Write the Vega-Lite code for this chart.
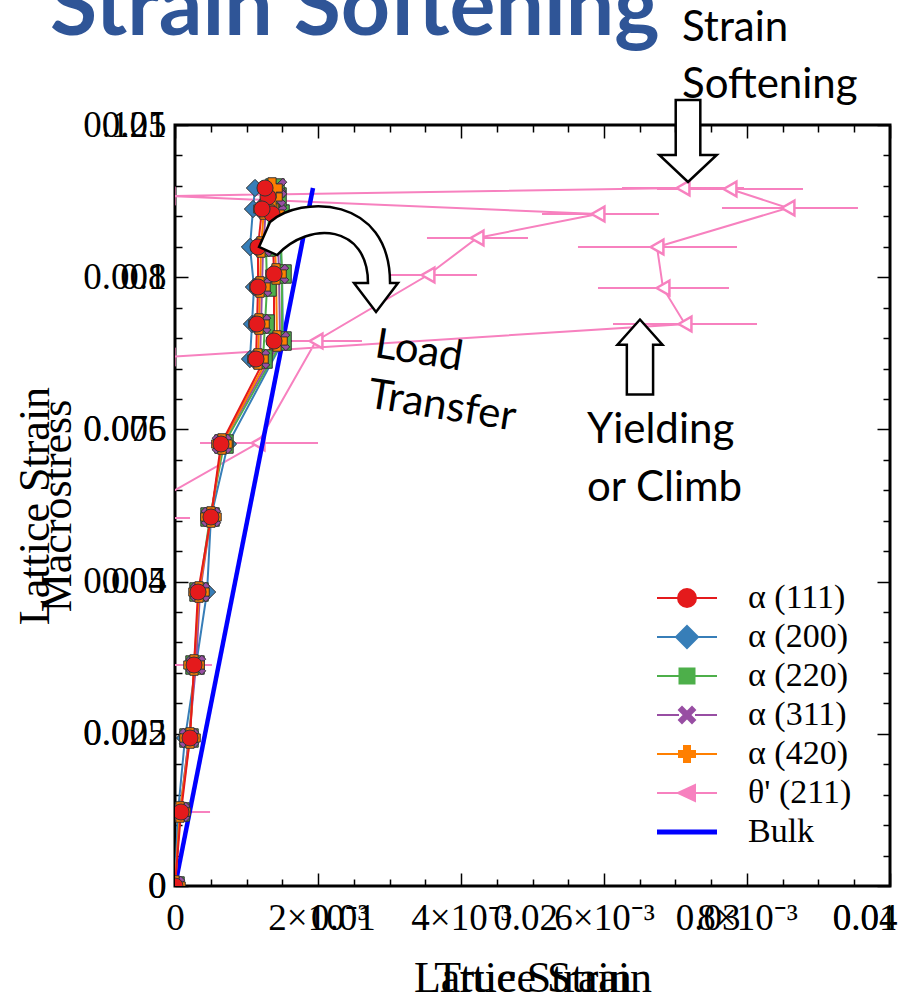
{
  "$schema": "https://vega.github.io/schema/vega-lite/v6.json",
  "width": 715,
  "height": 761,
  "autosize": {"type": "none"},
  "padding": {"left": 175, "top": 125, "right": 14, "bottom": 117},
  "background": "white",
  "config": {
    "view": {"stroke": "black", "strokeWidth": 3},
    "axis": {"grid": false, "domain": false, "labelFont": "Liberation Serif", "labelFontSize": 37, "labelColor": "black", "titleFont": "Liberation Serif", "titleFontSize": 44, "titleFontWeight": "normal", "titleColor": "black", "tickColor": "black", "tickWidth": 1.5, "labelOverlap": false, "labelBound": false, "labelFlush": false}
  },
  "datasets": {
    "alpha": [
      {"s":"α (200)","i":0,"e":0,"m":0},{"s":"α (200)","i":1,"e":0.000042,"m":0.01216},{"s":"α (200)","i":2,"e":0.00014,"m":0.02431},{"s":"α (200)","i":3,"e":0.000294,"m":0.0363},{"s":"α (200)","i":4,"e":0.000448,"m":0.04829},{"s":"α (200)","i":5,"e":0.000503,"m":0.06061},{"s":"α (200)","i":6,"e":0.000741,"m":0.0726},{"s":"α (200)","i":7,"e":0.00151,"m":0.08952},{"s":"α (200)","i":8,"e":0.001497,"m":0.10053},{"s":"α (200)","i":9,"e":0.001441,"m":0.11038},{"s":"α (200)","i":10,"e":0.001413,"m":0.11318},{"s":"α (200)","i":11,"e":0.001119,"m":0.11465},{"s":"α (200)","i":12,"e":0.001091,"m":0.1112},{"s":"α (200)","i":13,"e":0.001049,"m":0.10496},{"s":"α (200)","i":14,"e":0.001105,"m":0.09839},{"s":"α (200)","i":15,"e":0.001077,"m":0.09231},{"s":"α (200)","i":16,"e":0.001049,"m":0.08656},
      {"s":"α (220)","i":0,"e":0,"m":0},{"s":"α (220)","i":1,"e":0.00007,"m":0.01216},{"s":"α (220)","i":2,"e":0.000196,"m":0.02431},{"s":"α (220)","i":3,"e":0.00028,"m":0.0363},{"s":"α (220)","i":4,"e":0.000336,"m":0.04829},{"s":"α (220)","i":5,"e":0.00049,"m":0.06061},{"s":"α (220)","i":6,"e":0.000685,"m":0.0726},{"s":"α (220)","i":7,"e":0.001497,"m":0.08952},{"s":"α (220)","i":8,"e":0.001497,"m":0.10053},{"s":"α (220)","i":9,"e":0.001469,"m":0.11038},{"s":"α (220)","i":10,"e":0.001427,"m":0.11318},{"s":"α (220)","i":11,"e":0.001399,"m":0.11465},{"s":"α (220)","i":12,"e":0.001329,"m":0.1112},{"s":"α (220)","i":13,"e":0.001273,"m":0.10496},{"s":"α (220)","i":14,"e":0.001287,"m":0.09839},{"s":"α (220)","i":15,"e":0.001259,"m":0.09231},{"s":"α (220)","i":16,"e":0.001231,"m":0.08656},
      {"s":"α (311)","i":0,"e":0,"m":0},{"s":"α (311)","i":1,"e":0.00007,"m":0.01216},{"s":"α (311)","i":2,"e":0.000196,"m":0.02431},{"s":"α (311)","i":3,"e":0.000294,"m":0.0363},{"s":"α (311)","i":4,"e":0.00035,"m":0.04829},{"s":"α (311)","i":5,"e":0.000503,"m":0.06061},{"s":"α (311)","i":6,"e":0.000657,"m":0.0726},{"s":"α (311)","i":7,"e":0.001469,"m":0.08952},{"s":"α (311)","i":8,"e":0.001455,"m":0.10053},{"s":"α (311)","i":9,"e":0.001427,"m":0.11038},{"s":"α (311)","i":10,"e":0.001413,"m":0.11318},{"s":"α (311)","i":11,"e":0.001427,"m":0.11465},{"s":"α (311)","i":12,"e":0.001273,"m":0.1112},{"s":"α (311)","i":13,"e":0.001231,"m":0.10496},{"s":"α (311)","i":14,"e":0.001217,"m":0.09839},{"s":"α (311)","i":15,"e":0.001203,"m":0.09231},{"s":"α (311)","i":16,"e":0.001189,"m":0.08656},
      {"s":"α (420)","i":0,"e":0,"m":0},{"s":"α (420)","i":1,"e":0.00007,"m":0.01216},{"s":"α (420)","i":2,"e":0.00021,"m":0.02431},{"s":"α (420)","i":3,"e":0.000266,"m":0.0363},{"s":"α (420)","i":4,"e":0.000336,"m":0.04829},{"s":"α (420)","i":5,"e":0.000503,"m":0.06061},{"s":"α (420)","i":6,"e":0.000657,"m":0.0726},{"s":"α (420)","i":7,"e":0.001427,"m":0.08952},{"s":"α (420)","i":8,"e":0.001413,"m":0.10053},{"s":"α (420)","i":9,"e":0.001385,"m":0.11038},{"s":"α (420)","i":10,"e":0.001357,"m":0.11318},{"s":"α (420)","i":11,"e":0.001357,"m":0.11465},{"s":"α (420)","i":12,"e":0.001245,"m":0.1112},{"s":"α (420)","i":13,"e":0.001203,"m":0.10496},{"s":"α (420)","i":14,"e":0.001189,"m":0.09839},{"s":"α (420)","i":15,"e":0.001175,"m":0.09231},{"s":"α (420)","i":16,"e":0.001161,"m":0.08656},
      {"s":"α (111)","i":0,"e":0,"m":0},{"s":"α (111)","i":1,"e":0.000084,"m":0.01216},{"s":"α (111)","i":2,"e":0.00021,"m":0.02431},{"s":"α (111)","i":3,"e":0.000266,"m":0.0363},{"s":"α (111)","i":4,"e":0.000322,"m":0.04829},{"s":"α (111)","i":5,"e":0.000503,"m":0.06061},{"s":"α (111)","i":6,"e":0.000643,"m":0.0726},{"s":"α (111)","i":7,"e":0.001385,"m":0.08952},{"s":"α (111)","i":8,"e":0.001385,"m":0.10053},{"s":"α (111)","i":9,"e":0.001357,"m":0.11038},{"s":"α (111)","i":10,"e":0.001301,"m":0.11318},{"s":"α (111)","i":11,"e":0.001259,"m":0.11465},{"s":"α (111)","i":12,"e":0.001217,"m":0.1112},{"s":"α (111)","i":13,"e":0.001161,"m":0.10496},{"s":"α (111)","i":14,"e":0.001161,"m":0.09839},{"s":"α (111)","i":15,"e":0.001147,"m":0.09231},{"s":"α (111)","i":16,"e":0.001133,"m":0.08656}
    ],
    "theta": [
      {"s":"θ' (211)","i":0,"e":-0.00035,"m":0.01216,"lo":-0.00119,"hi":0.00049},
      {"s":"θ' (211)","i":1,"e":-0.00035,"m":0.0363,"lo":-0.00119,"hi":0.000517},
      {"s":"θ' (211)","i":2,"e":-0.000685,"m":0.06045,"lo":-0.00158,"hi":0.00021},
      {"s":"θ' (211)","i":3,"e":0.001161,"m":0.07277,"lo":0.00035,"hi":0.002},
      {"s":"θ' (211)","i":4,"e":0.001972,"m":0.08952,"lo":0.001329,"hi":0.002615},
      {"s":"θ' (211)","i":5,"e":0.003538,"m":0.10036,"lo":0.002909,"hi":0.004224},
      {"s":"θ' (211)","i":6,"e":0.004224,"m":0.10644,"lo":0.003524,"hi":0.004937},
      {"s":"θ' (211)","i":7,"e":0.005916,"m":0.11038,"lo":0.005133,"hi":0.006769},
      {"s":"θ' (211)","i":8,"e":-0.000098,"m":0.11334},
      {"s":"θ' (211)","i":9,"e":0.007105,"m":0.11465,"lo":0.006252,"hi":0.007958},
      {"s":"θ' (211)","i":10,"e":0.007762,"m":0.11449,"lo":0.006741,"hi":0.008783},
      {"s":"θ' (211)","i":11,"e":0.008573,"m":0.11137,"lo":0.00765,"hi":0.009552},
      {"s":"θ' (211)","i":12,"e":0.006741,"m":0.10496,"lo":0.005636,"hi":0.00786},
      {"s":"θ' (211)","i":13,"e":0.006825,"m":0.09823,"lo":0.005916,"hi":0.007748},
      {"s":"θ' (211)","i":14,"e":0.007133,"m":0.09231,"lo":0.006126,"hi":0.00814},
      {"s":"θ' (211)","i":15,"e":-0.000098,"m":0.08689}
    ],
    "bulk": [{"s":"Bulk","i":0,"e":0,"m":0},{"s":"Bulk","i":1,"e":0.00193,"m":0.11465}],
    "notes": [{"t":"Strain","e":0.007091,"m":0.14094},{"t":"Softening","e":0.007091,"m":0.13157},{"t":"Yielding","e":0.005762,"m":0.0749},{"t":"or Climb","e":0.005762,"m":0.06538}],
    "tilted": [{"t":"Load","e":0.003413,"m":0.08788},{"t":"Transfer","e":0.003734,"m":0.07884}],
    "heading": [{"t":"Strain Softening","e":-0.001748,"m":0.13979}],
    "arrows": [{"a":"down","e":0.007175,"m":0.12237},{"a":"up","e":0.006503,"m":0.08689},{"a":"curve","e":0.002056,"m":0.10266}]
  },
  "layer": [
    {
      "layer": [
        {
          "data": {"name": "theta"},
          "transform": [{"filter": "isValid(datum.lo)"}],
          "mark": {"type": "rule", "clip": true, "strokeWidth": 2},
          "encoding": {
            "x": {"field": "lo", "type": "quantitative", "title": "Lattice Strain", "scale": {"domain": [0, 0.01], "nice": false, "zero": false},
              "axis": {"orient": "bottom", "values": [0, 0.002, 0.004, 0.006, 0.008, 0.01],
                "labelExpr": "datum.value < 1e-9 ? '0' : datum.value > 0.0099 ? '0.01' : round(datum.value*1000) + '×10⁻³'",
                "ticks": false,
                "labelPadding": 14, "labelBaseline": "top", "labelOverlap": false, "labelBound": false, "labelFlush": false,
                "labelAlign": {"condition": {"test": "datum.value > 0.0099", "value": "right"}, "value": "center"},
                "labelOffset": {"condition": {"test": "datum.value > 0.0099", "value": 7}, "value": 0},
                "titleX": 357.5, "titleY": 92, "titleAlign": "center", "titleBaseline": "middle"}},
            "x2": {"field": "hi"},
            "y": {"field": "m", "type": "quantitative", "title": "Macrostress", "scale": {"domain": [0, 0.125], "nice": false},
              "axis": {"orient": "left", "values": [0, 0.025, 0.05, 0.075, 0.1, 0.125],
                "format": "~g", "ticks": false,
                "labelPadding": 9, "labelBaseline": "middle", "labelOverlap": false, "labelBound": false, "labelFlush": false,
                "titleAngle": -90, "titleX": -118, "titleY": 380.5, "titleAlign": "center", "titleBaseline": "middle"}},
            "color": {"field": "s", "type": "nominal",
              "scale": {"domain": ["α (111)","α (200)","α (220)","α (311)","α (420)","θ' (211)","Bulk"], "range": ["#e41a1c","#377eb8","#4daf4a","#984ea3","#ff7f00","#f781bf","#0000ff"]},
              "legend": {"title": null, "orient": "none", "legendX": 495, "legendY": 456, "symbolSize": 400, "labelFont": "Liberation Serif", "labelFontSize": 34, "labelColor": "black", "labelOffset": 44, "rowPadding": 5, "labelLimit": 300,
                "encode": {"symbols": {"update": {
                  "shape": {"signal": "['M-3,0H-0.9M0.9,0H3M-0.9,0A0.9,0.9 0 1,0 0.9,0A0.9,0.9 0 1,0 -0.9,0Z','M-3,0H-1.1M1.1,0H3M0,-1.1L1.1,0L0,1.1L-1.1,0Z','M-3,0H-0.75M0.75,0H3M-0.75,-0.75H0.75V0.75H-0.75Z','M-3,0H-0.8M0.8,0H3M-0.8,-0.5L-0.5,-0.8L0,-0.3L0.5,-0.8L0.8,-0.5L0.3,0L0.8,0.5L0.5,0.8L0,0.3L-0.5,0.8L-0.8,0.5L-0.3,0Z','M-3,0H-0.8M0.8,0H3M-0.3,-0.8H0.3V-0.3H0.8V0.3H0.3V0.8H-0.3V0.3H-0.8V-0.3H-0.3Z','M-3,0H-0.9M0.8,0H3M-0.9,0L0.8,-0.8V0.8Z','M-3,0H3'][datum.index]"},
                  "fill": {"signal": "['#e41a1c','#377eb8','#4daf4a','#984ea3','#ff7f00','#ffffff','#0000ff'][datum.index]"},
                  "stroke": {"signal": "['#e41a1c','#377eb8','#4daf4a','#984ea3','#ff7f00','#f781bf','#0000ff'][datum.index]"},
                  "strokeWidth": {"signal": "datum.index == 6 ? 5 : 2"},
                  "size": {"value": 400},
                  "opacity": {"value": 1},
                  "fillOpacity": {"value": 1}
                }}}}}
          }
        },
        {
          "data": {"name": "theta"},
          "mark": {"type": "line", "clip": true, "strokeWidth": 2},
          "encoding": {
            "x": {"field": "e", "type": "quantitative", "title": "Lattice Strain"},
            "y": {"field": "m", "type": "quantitative", "title": "Macrostress"},
            "color": {"field": "s", "type": "nominal"},
            "order": {"field": "i", "type": "quantitative"}
          }
        },
        {
          "data": {"name": "theta"},
          "mark": {"type": "point", "clip": true, "shape": "triangle-left", "filled": false, "fill": "white", "fillOpacity": 1, "opacity": 1, "size": 220, "strokeWidth": 2.5},
          "encoding": {
            "x": {"field": "e", "type": "quantitative", "title": "Lattice Strain"},
            "y": {"field": "m", "type": "quantitative", "title": "Macrostress"},
            "color": {"field": "s", "type": "nominal"}
          }
        },
        {
          "data": {"name": "bulk"},
          "mark": {"type": "line", "clip": true, "strokeWidth": 4.5},
          "encoding": {
            "x": {"field": "e", "type": "quantitative", "title": "Lattice Strain"},
            "y": {"field": "m", "type": "quantitative", "title": "Macrostress"},
            "color": {"field": "s", "type": "nominal"},
            "order": {"field": "i", "type": "quantitative"}
          }
        },
        {
          "data": {"name": "alpha"},
          "mark": {"type": "line", "clip": true, "strokeWidth": 2},
          "encoding": {
            "x": {"field": "e", "type": "quantitative", "title": "Lattice Strain"},
            "y": {"field": "m", "type": "quantitative", "title": "Macrostress"},
            "color": {"field": "s", "type": "nominal"},
            "order": {"field": "i", "type": "quantitative"}
          }
        },
        {
          "data": {"name": "alpha"},
          "mark": {"type": "point", "clip": true, "filled": true, "opacity": 1, "stroke": "#333333", "strokeWidth": 1},
          "encoding": {
            "x": {"field": "e", "type": "quantitative", "title": "Lattice Strain"},
            "y": {"field": "m", "type": "quantitative", "title": "Macrostress"},
            "color": {"field": "s", "type": "nominal"},
            "shape": {"field": "s", "type": "nominal", "legend": null,
              "scale": {"domain": ["α (111)","α (200)","α (220)","α (311)","α (420)"], "range": ["circle","diamond","square","M-1,-0.6L-0.6,-1L0,-0.4L0.6,-1L1,-0.6L0.4,0L1,0.6L0.6,1L0,0.4L-0.6,1L-1,0.6L-0.4,0Z","cross"]}},
            "size": {"field": "s", "type": "nominal", "legend": null,
              "scale": {"domain": ["α (111)","α (200)","α (220)","α (311)","α (420)"], "range": [260, 420, 220, 180, 200]}}
          }
        },
        {
          "data": {"name": "arrows"},
          "transform": [{"filter": "datum.a == 'down'"}],
          "mark": {"type": "point", "filled": true, "fill": "white", "stroke": "black", "strokeWidth": 2.5, "opacity": 1, "size": 6724,
            "shape": "M-0.3,-1L0.3,-1L0.3,0.34L0.7,0.34L0,1L-0.7,0.34L-0.3,0.34Z"},
          "encoding": {
            "x": {"field": "e", "type": "quantitative", "title": "Lattice Strain"},
            "y": {"field": "m", "type": "quantitative", "title": "Macrostress"}
          }
        },
        {
          "data": {"name": "arrows"},
          "transform": [{"filter": "datum.a == 'up'"}],
          "mark": {"type": "point", "filled": true, "fill": "white", "stroke": "black", "strokeWidth": 2.5, "opacity": 1, "size": 5625,
            "shape": "M0,-1L0.6,-0.33L0.35,-0.33L0.35,1L-0.35,1L-0.35,-0.33L-0.6,-0.33Z"},
          "encoding": {
            "x": {"field": "e", "type": "quantitative", "title": "Lattice Strain"},
            "y": {"field": "m", "type": "quantitative", "title": "Macrostress"}
          }
        },
        {
          "data": {"name": "arrows"},
          "transform": [{"filter": "datum.a == 'curve'"}],
          "mark": {"type": "point", "filled": true, "fill": "white", "stroke": "black", "strokeWidth": 2.5, "opacity": 1, "size": 21316,
            "shape": "M-0.863,-0.192L-0.712,-0.534C-0.301,-0.904 0.932,-0.904 0.932,0.301L1.041,0.301L0.74,0.699L0.438,0.301L0.63,0.301C0.63,-0.493 -0.164,-0.562 -0.616,-0.082Z"},
          "encoding": {
            "x": {"field": "e", "type": "quantitative", "title": "Lattice Strain"},
            "y": {"field": "m", "type": "quantitative", "title": "Macrostress"}
          }
        },
        {
          "data": {"name": "notes"},
          "mark": {"type": "text", "font": "Lato", "fontSize": 42, "align": "left", "baseline": "middle", "color": "black"},
          "encoding": {
            "x": {"field": "e", "type": "quantitative", "title": "Lattice Strain"},
            "y": {"field": "m", "type": "quantitative", "title": "Macrostress"},
            "text": {"field": "t"}
          }
        },
        {
          "data": {"name": "tilted"},
          "mark": {"type": "text", "font": "Lato", "fontSize": 42, "align": "center", "baseline": "middle", "angle": 9, "color": "black"},
          "encoding": {
            "x": {"field": "e", "type": "quantitative", "title": "Lattice Strain"},
            "y": {"field": "m", "type": "quantitative", "title": "Macrostress"},
            "text": {"field": "t"}
          }
        },
        {
          "data": {"name": "heading"},
          "mark": {"type": "text", "font": "Lato", "fontSize": 86, "fontWeight": "bold", "align": "left", "baseline": "alphabetic", "color": "#2F5597"},
          "encoding": {
            "x": {"field": "e", "type": "quantitative", "title": "Lattice Strain"},
            "y": {"field": "m", "type": "quantitative", "title": "Macrostress"},
            "text": {"field": "t"}
          }
        }
      ]
    },
    {
      "data": {"values": []},
      "mark": {"type": "point", "opacity": 0},
      "encoding": {
        "x": {"field": "ts", "type": "quantitative", "scale": {"domain": [0.0008, 0.04], "nice": false, "zero": false},
          "axis": {"orient": "bottom", "values": [0.01, 0.02, 0.03, 0.04], "format": "~g", "ticks": false, "labelPadding": 14, "labelBaseline": "top", "labelOverlap": false, "labelBound": false, "labelFlush": false,
            "labelAlign": {"condition": {"test": "datum.value > 0.0399", "value": "right"}, "value": "center"},
            "labelOffset": {"condition": {"test": "datum.value > 0.0399", "value": 7}, "value": 0},
            "title": "True Strain", "titleX": 357.5, "titleY": 92, "titleAlign": "center", "titleBaseline": "middle"}},
        "y": {"field": "ls", "type": "quantitative", "scale": {"domain": [0, 0.01], "nice": false},
          "axis": {"orient": "left", "values": [0, 0.002, 0.004, 0.006, 0.008, 0.01], "format": "~g", "ticks": false, "labelPadding": 9, "labelBaseline": "middle", "labelOverlap": false, "labelBound": false, "labelFlush": false,
            "title": "Lattice Strain", "titleAngle": -90, "titleX": -140, "titleY": 380.5, "titleAlign": "center", "titleBaseline": "middle"}}
      }
    },
    {
      "data": {"values": []},
      "mark": {"type": "point", "opacity": 0},
      "encoding": {
        "x": {"field": "tx", "type": "quantitative", "scale": {"domain": [0, 0.01], "nice": false},
          "axis": {"orient": "top", "values": [0,0.0005,0.001,0.0015,0.002,0.0025,0.003,0.0035,0.004,0.0045,0.005,0.0055,0.006,0.0065,0.007,0.0075,0.008,0.0085,0.009,0.0095,0.01],
            "labels": false, "title": null,
            "tickSize": {"condition": {"test": "abs(datum.value/0.002 - round(datum.value/0.002)) < 1e-6", "value": -13}, "value": -7}}},
        "y": {"field": "ty", "type": "quantitative", "scale": {"domain": [0, 0.01], "nice": false},
          "axis": {"orient": "right", "values": [0,0.0004,0.0008,0.0012,0.0016,0.002,0.0024,0.0028,0.0032,0.0036,0.004,0.0044,0.0048,0.0052,0.0056,0.006,0.0064,0.0068,0.0072,0.0076,0.008,0.0084,0.0088,0.0092,0.0096,0.01],
            "labels": false, "title": null,
            "tickSize": {"condition": {"test": "abs(datum.value/0.002 - round(datum.value/0.002)) < 1e-6", "value": -13}, "value": -7}}}
      }
    },
    {
      "data": {"values": []},
      "mark": {"type": "point", "opacity": 0},
      "encoding": {
        "x": {"field": "bx", "type": "quantitative", "scale": {"domain": [0, 0.01], "nice": false},
          "axis": {"orient": "bottom", "values": [0,0.0005,0.001,0.0015,0.002,0.0025,0.003,0.0035,0.004,0.0045,0.005,0.0055,0.006,0.0065,0.007,0.0075,0.008,0.0085,0.009,0.0095,0.01],
            "labels": false, "title": null,
            "tickSize": {"condition": {"test": "abs(datum.value/0.002 - round(datum.value/0.002)) < 1e-6", "value": -13}, "value": -7}}},
        "y": {"field": "ly", "type": "quantitative", "scale": {"domain": [0, 0.01], "nice": false},
          "axis": {"orient": "left", "values": [0,0.0004,0.0008,0.0012,0.0016,0.002,0.0024,0.0028,0.0032,0.0036,0.004,0.0044,0.0048,0.0052,0.0056,0.006,0.0064,0.0068,0.0072,0.0076,0.008,0.0084,0.0088,0.0092,0.0096,0.01],
            "labels": false, "title": null,
            "tickSize": {"condition": {"test": "abs(datum.value/0.002 - round(datum.value/0.002)) < 1e-6", "value": -13}, "value": -7}}}
      }
    }
  ],
  "resolve": {"scale": {"x": "independent", "y": "independent"}, "axis": {"x": "independent", "y": "independent"}}
}
